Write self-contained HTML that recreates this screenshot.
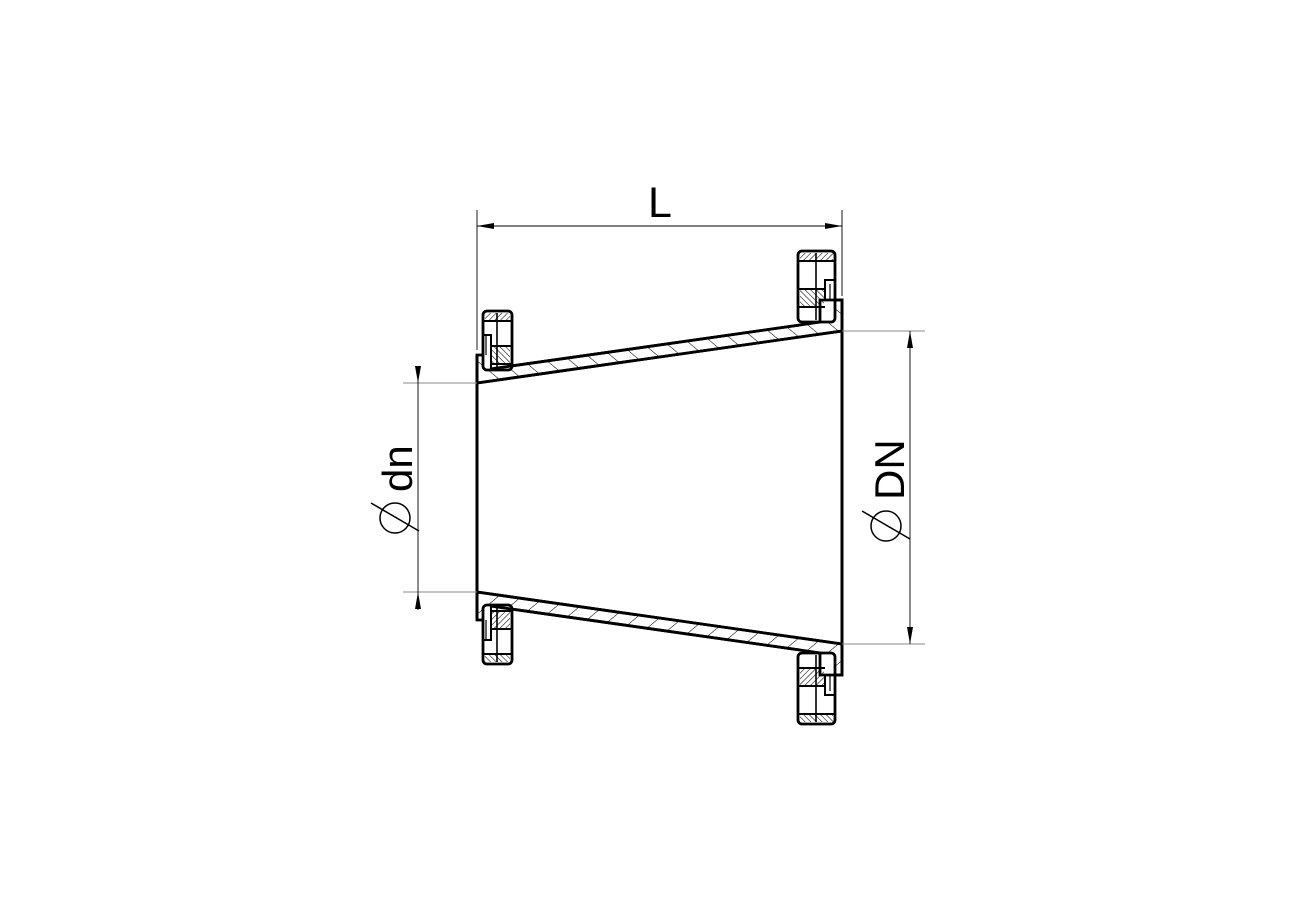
<!DOCTYPE html>
<html><head><meta charset="utf-8"><style>html,body{margin:0;padding:0;background:#fff}svg{display:block}</style></head>
<body>
<svg width="1300" height="919" viewBox="0 0 1300 919" xmlns="http://www.w3.org/2000/svg">
<defs>
<pattern id="h" patternUnits="userSpaceOnUse" width="15" height="15" patternTransform="rotate(-50)">
<line x1="0" y1="0" x2="0" y2="15" stroke="#000" stroke-width="1.1"/>
</pattern>
<pattern id="h2" patternUnits="userSpaceOnUse" width="4" height="4" patternTransform="rotate(45)">
<line x1="0" y1="0" x2="0" y2="4" stroke="#000" stroke-width="1.1"/>
</pattern>
<pattern id="h3" patternUnits="userSpaceOnUse" width="4" height="4" patternTransform="rotate(-45)">
<line x1="0" y1="0" x2="0" y2="4" stroke="#000" stroke-width="1.1"/>
</pattern>
<g id="half">
  <polygon points="477,383 477,355 490,355 490,369 800,325 820,322 820,300 842,300 842,331" fill="url(#h)" stroke="#000" stroke-width="2.8" stroke-linejoin="miter"/>
  <rect x="483" y="311" width="29" height="59" rx="4" fill="#fff" stroke="#000" stroke-width="2.8"/>
  <rect x="485" y="313" width="25" height="8" fill="url(#h2)"/>
  <line x1="483" y1="321" x2="512" y2="321" stroke="#000" stroke-width="2"/>
  <rect x="491" y="346" width="19" height="18" fill="url(#h3)"/>
  <line x1="491" y1="346" x2="512" y2="346" stroke="#000" stroke-width="2"/>
  <line x1="491" y1="364" x2="512" y2="364" stroke="#000" stroke-width="2"/>
  <line x1="497" y1="313" x2="497" y2="368" stroke="#000" stroke-width="1.6"/>
  <polyline points="483,335 491,335 491,368" fill="none" stroke="#000" stroke-width="2"/>
  <line x1="486" y1="335" x2="486" y2="355" stroke="#000" stroke-width="1.2"/>
  <rect x="798" y="251" width="37" height="71" rx="4" fill="#fff" stroke="#000" stroke-width="2.8"/>
  <rect x="800" y="253" width="33" height="8" fill="url(#h2)"/>
  <line x1="798" y1="261" x2="835" y2="261" stroke="#000" stroke-width="2"/>
  <rect x="800" y="289" width="24" height="18" fill="url(#h3)"/>
  <line x1="798" y1="289" x2="825" y2="289" stroke="#000" stroke-width="2"/>
  <line x1="798" y1="307" x2="825" y2="307" stroke="#000" stroke-width="2"/>
  <line x1="816" y1="253" x2="816" y2="320" stroke="#000" stroke-width="1.6"/>
  <polyline points="835,280 825,280 825,300" fill="none" stroke="#000" stroke-width="2"/>
  <line x1="830" y1="284" x2="830" y2="300" stroke="#000" stroke-width="1.2"/>
  <polyline points="490,369 800,325" fill="none" stroke="#000" stroke-width="2.8"/>
  <polyline points="820,322 820,300 842,300 842,331" fill="none" stroke="#000" stroke-width="2.8"/>
</g>
</defs>
<use href="#half"/>
<use href="#half" transform="translate(0,975) scale(1,-1)"/>
<line x1="477" y1="383" x2="842" y2="331" stroke="#000" stroke-width="2.8"/>
<line x1="477" y1="592" x2="842" y2="644" stroke="#000" stroke-width="2.8"/>
<line x1="477" y1="355" x2="477" y2="620" stroke="#000" stroke-width="3"/>
<line x1="842" y1="300" x2="842" y2="675" stroke="#000" stroke-width="3"/>

<g stroke="#000" stroke-width="0.9">
<line x1="477" y1="210" x2="477" y2="350"/>
<line x1="842" y1="210" x2="842" y2="296"/>
<line x1="477" y1="226" x2="842" y2="226"/>
<line x1="403" y1="383" x2="477" y2="383" stroke="#888"/>
<line x1="403" y1="592" x2="477" y2="592" stroke="#888"/>
<line x1="418" y1="366" x2="418" y2="610"/>
<line x1="842" y1="331" x2="925" y2="331" stroke="#888"/>
<line x1="842" y1="644" x2="925" y2="644" stroke="#888"/>
<line x1="910" y1="331" x2="910" y2="644"/>
</g>
<g fill="#000">
<polygon points="477,226 494,223 494,229"/>
<polygon points="842,226 825,223 825,229"/>
<polygon points="418,383 415,366 421,366"/>
<polygon points="418,592 415,609 421,609"/>
<polygon points="910,331 907,348 913,348"/>
<polygon points="910,644 907,627 913,627"/>
</g>
<text x="648" y="217" font-family="Liberation Sans, sans-serif" font-size="43">L</text>
<text transform="translate(412,492) rotate(-90)" font-family="Liberation Sans, sans-serif" font-size="42">dn</text>
<circle cx="395" cy="518" r="15" fill="none" stroke="#000" stroke-width="1.5"/>
<line x1="371" y1="503" x2="419" y2="531" stroke="#000" stroke-width="1.5"/>
<text transform="translate(904,500) rotate(-90)" font-family="Liberation Sans, sans-serif" font-size="42">DN</text>
<circle cx="886" cy="526" r="15" fill="none" stroke="#000" stroke-width="1.5"/>
<line x1="862" y1="511" x2="910" y2="539" stroke="#000" stroke-width="1.5"/>
</svg>
</body></html>
